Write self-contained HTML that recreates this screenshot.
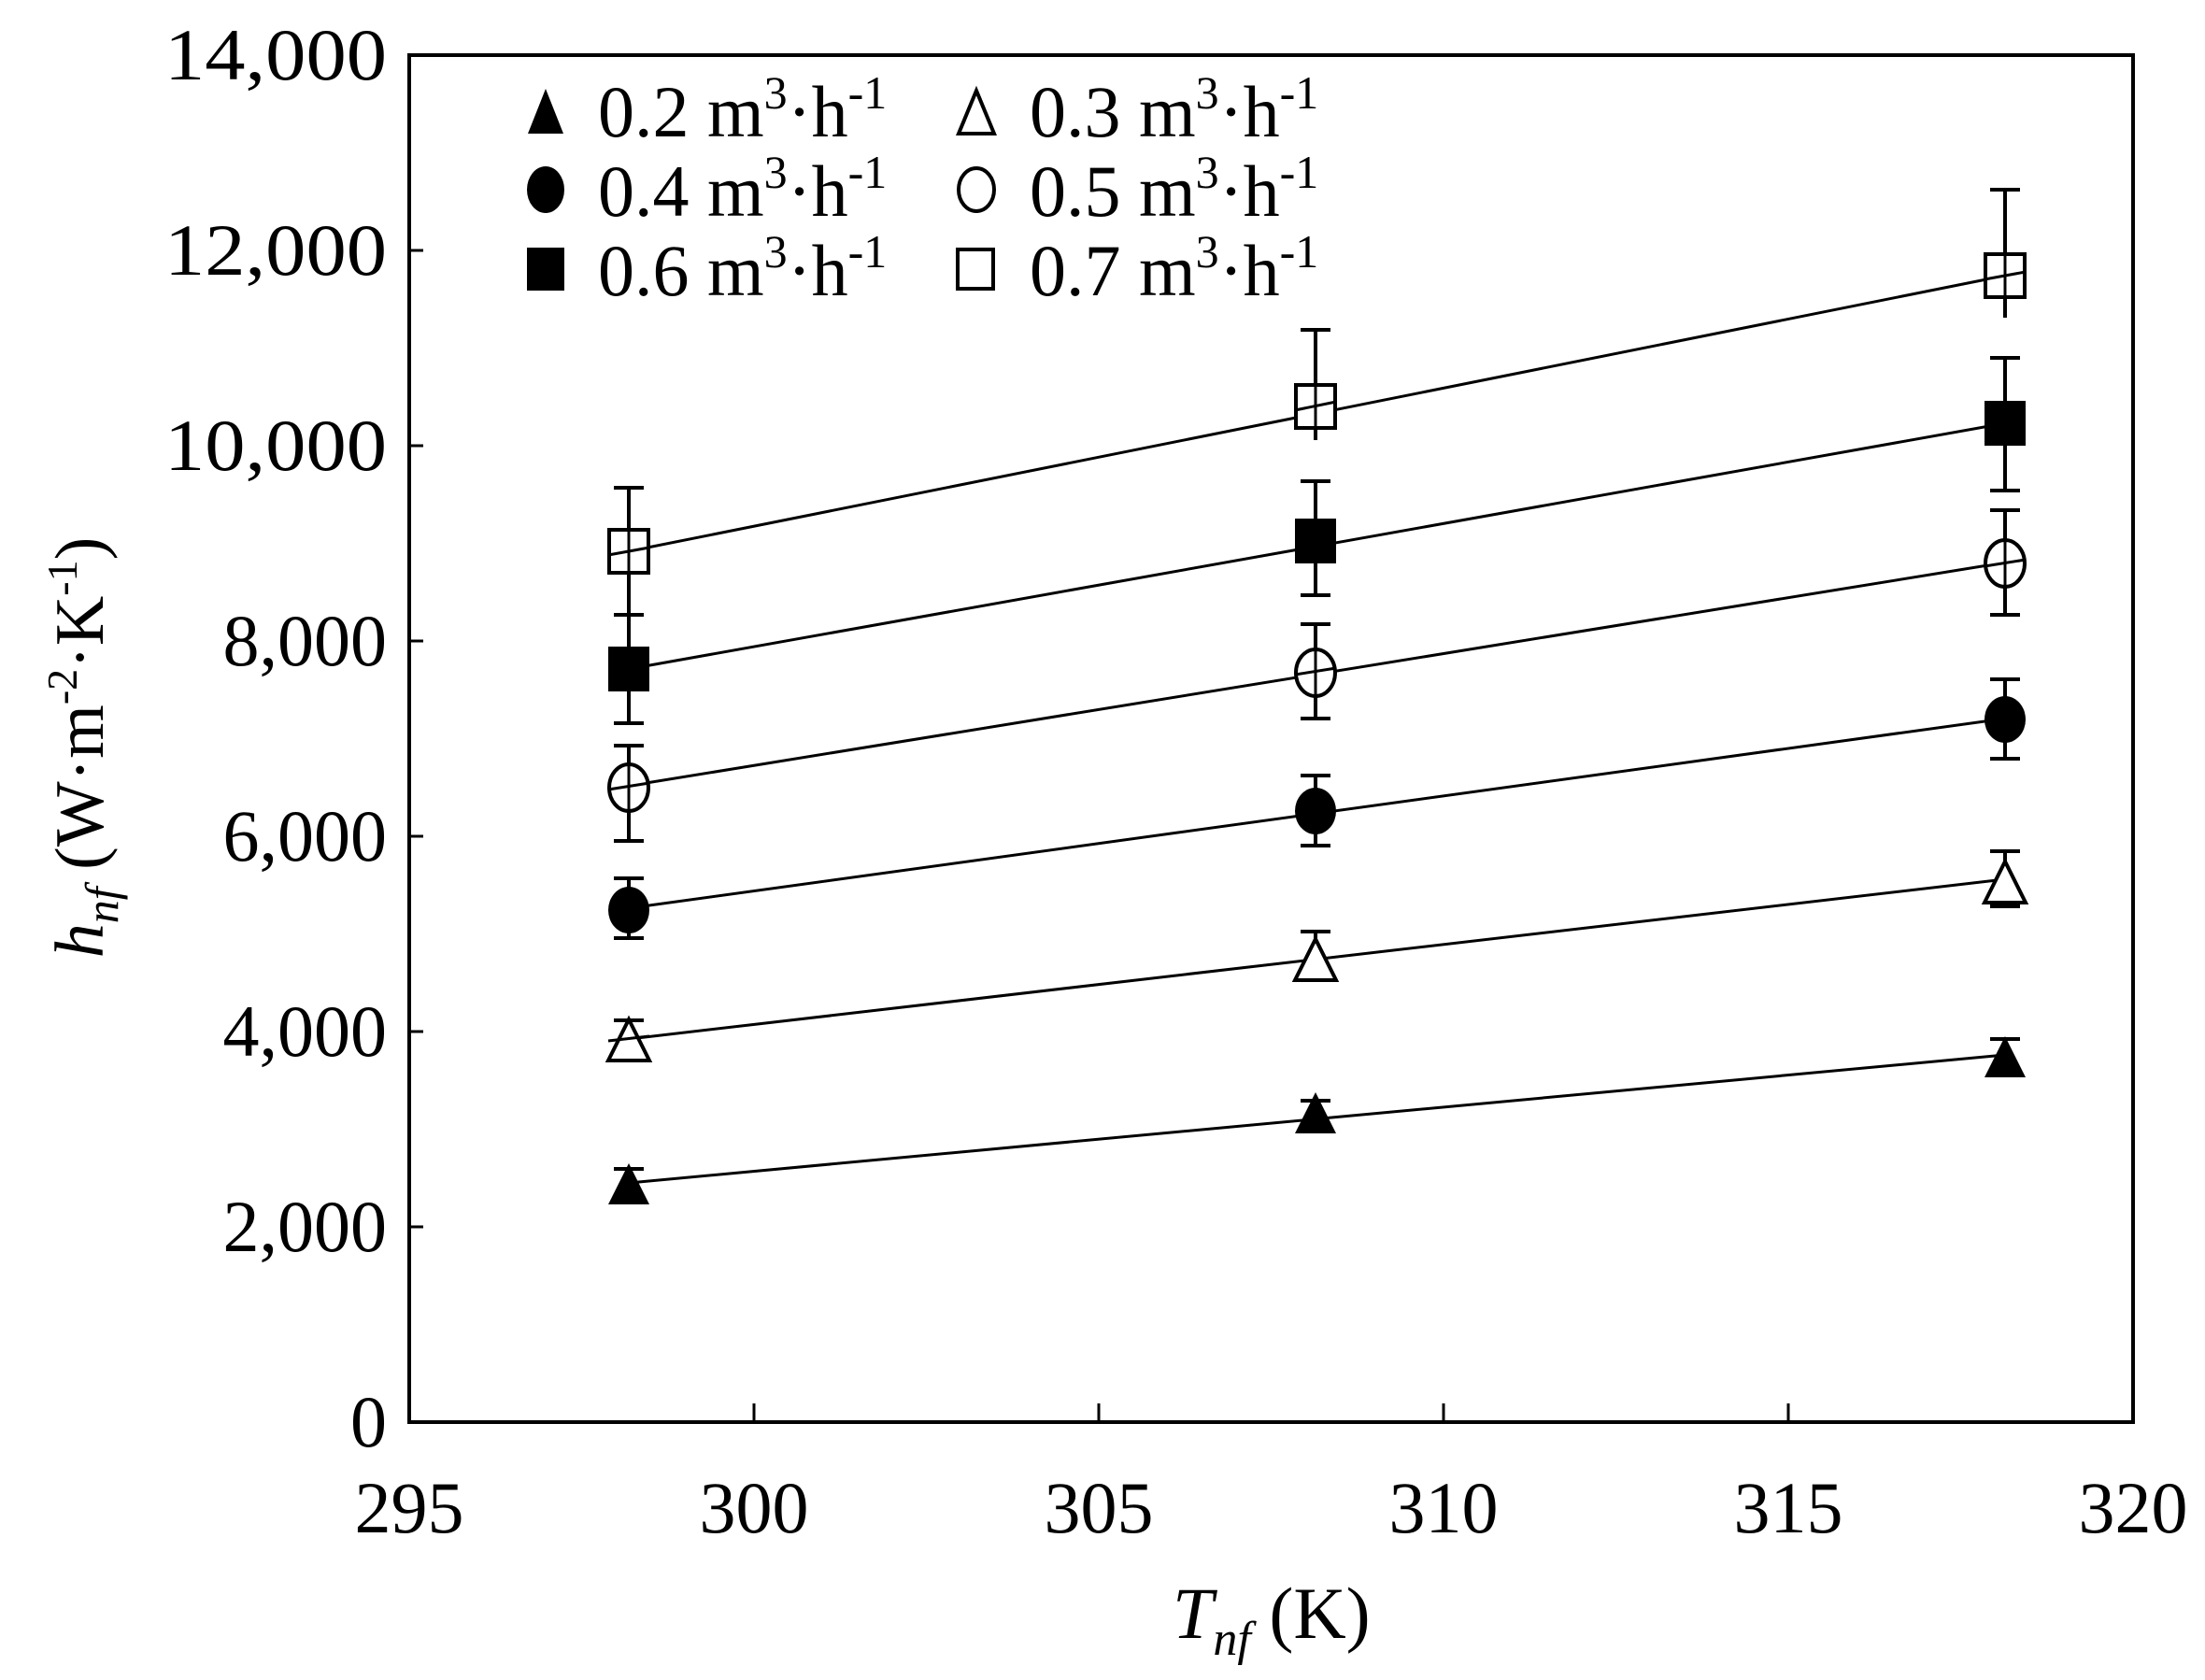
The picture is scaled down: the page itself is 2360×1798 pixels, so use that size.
<!DOCTYPE html>
<html><head><style>
html,body{margin:0;padding:0;background:#fff;}
svg{display:block;}
text{font-family:"Liberation Serif",serif;fill:#000;}
</style></head><body>
<svg width="2360" height="1798" viewBox="0 0 2360 1798" xmlns="http://www.w3.org/2000/svg">
<defs>
<path id="tf" d="M-22,21 L0,-23 L22,21 Z"/>
</defs>
<rect x="438" y="59" width="1845" height="1463" fill="none" stroke="#000" stroke-width="4"/>
<g stroke="#000" stroke-width="3">
<line x1="807" y1="1522" x2="807" y2="1502"/>
<line x1="1176" y1="1522" x2="1176" y2="1502"/>
<line x1="1545" y1="1522" x2="1545" y2="1502"/>
<line x1="1914" y1="1522" x2="1914" y2="1502"/>
<line x1="438" y1="1313" x2="453" y2="1313"/>
<line x1="438" y1="1104" x2="453" y2="1104"/>
<line x1="438" y1="895" x2="453" y2="895"/>
<line x1="438" y1="686" x2="453" y2="686"/>
<line x1="438" y1="477" x2="453" y2="477"/>
<line x1="438" y1="268" x2="453" y2="268"/>
</g>
<g font-size="78" text-anchor="end">
<text x="414" y="1548">0</text>
<text x="414" y="1339">2,000</text>
<text x="414" y="1130">4,000</text>
<text x="414" y="921">6,000</text>
<text x="414" y="712">8,000</text>
<text x="414" y="503" textLength="238" lengthAdjust="spacingAndGlyphs">10,000</text>
<text x="414" y="294" textLength="238" lengthAdjust="spacingAndGlyphs">12,000</text>
<text x="414" y="85" textLength="238" lengthAdjust="spacingAndGlyphs">14,000</text>
</g>
<g font-size="78" text-anchor="middle">
<text x="438" y="1640">295</text>
<text x="807" y="1640">300</text>
<text x="1176" y="1640">305</text>
<text x="1545" y="1640">310</text>
<text x="1914" y="1640">315</text>
<text x="2283" y="1640">320</text>
</g>
<text x="1255" y="1753" font-size="78"><tspan font-style="italic">T</tspan><tspan font-style="italic" font-size="52" dy="18">nf</tspan><tspan dy="-18">  (K)</tspan></text>
<text transform="translate(110,800) rotate(-90)" text-anchor="middle" font-size="74"><tspan font-style="italic">h</tspan><tspan font-style="italic" font-size="50" dy="16">nf</tspan><tspan dy="-16">  (W·m</tspan><tspan font-size="46" dy="-28">-2</tspan><tspan dy="28">·K</tspan><tspan font-size="46" dy="-28">-1</tspan><tspan dy="28">)</tspan></text>

<g stroke="#000" stroke-width="3">
<line x1="673" y1="1266" x2="2146" y2="1129"/>
<line x1="673" y1="1112" x2="2146" y2="941"/>
<line x1="673" y1="972" x2="2146" y2="769"/>
<line x1="673" y1="841" x2="2146" y2="602"/>
<line x1="673" y1="716" x2="2146" y2="453"/>
<line x1="673" y1="590" x2="2146" y2="295"/>
</g>
<g stroke="#000" stroke-width="4" fill="none">
<path d="M673,1251V1282M657,1251H689M657,1282H689"/>
<path d="M1408,1178V1203M1392,1178H1424M1392,1203H1424"/>
<path d="M2146,1112V1145M2130,1112H2162M2130,1145H2162"/>
<path d="M673,1092V1132M657,1092H689M657,1132H689"/>
<path d="M1408,997V1040M1392,997H1424M1392,1040H1424"/>
<path d="M2146,911V970M2130,911H2162M2130,970H2162"/>
<path d="M673,940V1004M657,940H689M657,1004H689"/>
<path d="M1408,830V905M1392,830H1424M1392,905H1424"/>
<path d="M2146,727V812M2130,727H2162M2130,812H2162"/>
<path d="M673,798V900M657,798H689M657,900H689"/>
<path d="M1408,668V769M1392,668H1424M1392,769H1424"/>
<path d="M2146,546V658M2130,546H2162M2130,658H2162"/>
<path d="M673,658V774M657,658H689M657,774H689"/>
<path d="M1408,515V637M1392,515H1424M1392,637H1424"/>
<path d="M2146,383V525M2130,383H2162M2130,525H2162"/>
<path d="M673,522V658M657,522H689"/>
<path d="M1408,353V471M1392,353H1424"/>
<path d="M2146,203V340M2130,203H2162"/>
</g>
<g fill="#000">
<use href="#tf" x="673" y="1268"/><use href="#tf" x="1408" y="1192"/><use href="#tf" x="2146" y="1132"/>
<ellipse cx="673" cy="974" rx="22" ry="25"/><ellipse cx="1408" cy="868" rx="22" ry="25"/><ellipse cx="2146" cy="770" rx="22" ry="25"/>
<rect x="651" y="692" width="44" height="48"/><rect x="1386" y="555" width="44" height="48"/><rect x="2124" y="429" width="44" height="48"/>
</g>
<g fill="#fff" stroke="#000" stroke-width="4">
<use href="#tf" x="673" y="1114"/><use href="#tf" x="1408" y="1028"/><use href="#tf" x="2146" y="945"/>
<ellipse cx="673" cy="843" rx="21" ry="25"/><ellipse cx="1408" cy="720" rx="21" ry="25"/><ellipse cx="2146" cy="603" rx="21" ry="25"/>
<rect x="652" y="567" width="42" height="46"/><rect x="1387" y="412" width="42" height="46"/><rect x="2125" y="272" width="42" height="46"/>
</g>
<g stroke="#000" stroke-width="3">
<line x1="651" y1="1114" x2="695" y2="1109"/>
<line x1="651" y1="845" x2="695" y2="838"/>
<line x1="1386" y1="722" x2="1430" y2="715"/>
<line x1="2124" y1="606" x2="2168" y2="599"/>
<line x1="651" y1="594" x2="695" y2="586"/>
<line x1="1386" y1="439" x2="1430" y2="430"/>
<line x1="2124" y1="299" x2="2168" y2="291"/>
<line x1="1408" y1="409" x2="1408" y2="461"/>
<line x1="2146" y1="269" x2="2146" y2="321"/>
<line x1="673" y1="564" x2="673" y2="616"/>
<line x1="673" y1="819" x2="673" y2="867"/>
<line x1="1408" y1="696" x2="1408" y2="744"/>
<line x1="2146" y1="579" x2="2146" y2="627"/>
</g>
<g fill="#000">
<path d="M565,143 L584,95 L603,143 Z"/>
<ellipse cx="584" cy="203" rx="20" ry="25"/>
<rect x="564" y="265" width="40" height="46"/>
</g>
<g fill="#fff" stroke="#000" stroke-width="4">
<path d="M1026,143 L1045,97 L1064,143 Z"/>
<ellipse cx="1045" cy="203" rx="19" ry="23"/>
<rect x="1025" y="267" width="38" height="42"/>
</g>
<g font-size="78">
<text x="640" y="146">0.2 m<tspan font-size="50" dy="-30">3</tspan><tspan dy="30">·h</tspan><tspan font-size="50" dy="-30">-1</tspan></text>
<text x="640" y="231">0.4 m<tspan font-size="50" dy="-30">3</tspan><tspan dy="30">·h</tspan><tspan font-size="50" dy="-30">-1</tspan></text>
<text x="640" y="316">0.6 m<tspan font-size="50" dy="-30">3</tspan><tspan dy="30">·h</tspan><tspan font-size="50" dy="-30">-1</tspan></text>
<text x="1102" y="146">0.3 m<tspan font-size="50" dy="-30">3</tspan><tspan dy="30">·h</tspan><tspan font-size="50" dy="-30">-1</tspan></text>
<text x="1102" y="231">0.5 m<tspan font-size="50" dy="-30">3</tspan><tspan dy="30">·h</tspan><tspan font-size="50" dy="-30">-1</tspan></text>
<text x="1102" y="316">0.7 m<tspan font-size="50" dy="-30">3</tspan><tspan dy="30">·h</tspan><tspan font-size="50" dy="-30">-1</tspan></text>
</g>
</svg>
</body></html>
